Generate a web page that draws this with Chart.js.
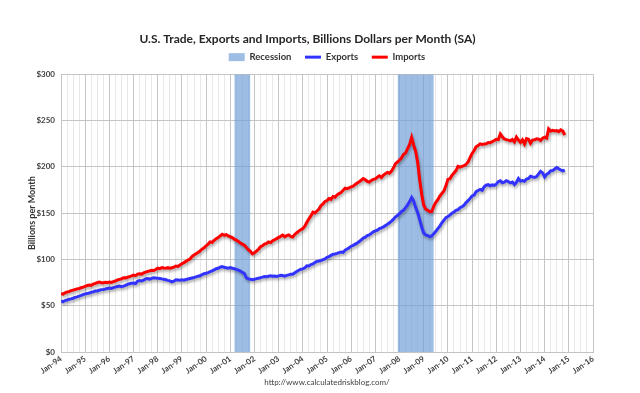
<!DOCTYPE html>
<html><head><meta charset="utf-8">
<script src="https://cdn.jsdelivr.net/npm/chart.js@4.4.0/dist/chart.umd.min.js"></script>
<style>html,body{margin:0;padding:0;background:#fff;}canvas{display:block;}</style>
</head><body>
<canvas id="c" width="640" height="393"></canvas>
<script>
const startYear = 1994;
const tickLabels = ['Jan-94','Jan-95','Jan-96','Jan-97','Jan-98','Jan-99','Jan-00','Jan-01','Jan-02','Jan-03','Jan-04','Jan-05','Jan-06','Jan-07','Jan-08','Jan-09','Jan-10','Jan-11','Jan-12','Jan-13','Jan-14','Jan-15','Jan-16'];

// Monthly exports, billions $ (Jan-1994 .. Nov-2014)
const exportsData = [
 55.2, 54.3, 55.6, 56.2, 57.0, 57.4, 58.1, 59.0, 59.6, 60.3, 61.1, 62.0,
 62.8, 63.1, 63.7, 64.5, 64.9, 65.8, 66.0, 66.7, 67.4, 67.6, 68.0, 68.6,
 69.0, 68.7, 69.6, 70.1, 70.8, 71.3, 70.6, 71.2, 72.0, 73.1, 73.8, 74.3,
 74.6, 74.0, 76.5, 77.2, 76.8, 77.6, 78.9, 79.4, 78.8, 79.6, 80.3, 79.9,
 79.8, 79.5, 79.0, 78.6, 78.0, 77.4, 76.9, 75.8, 76.5, 78.0, 77.8, 77.6,
 78.0, 77.6, 78.3, 78.8, 79.4, 80.0, 80.5, 81.1, 81.9, 82.4, 83.5, 84.6,
 85.0, 85.8, 86.9, 87.6, 88.7, 89.9, 90.4, 91.6, 92.3, 91.5, 91.0, 90.6,
 91.2, 90.5, 90.0, 89.2, 88.4, 87.5, 86.0, 84.8, 80.0, 79.0, 78.6, 78.2,
 78.5, 79.3, 79.6, 80.4, 80.9, 81.5, 81.3, 81.9, 82.3, 81.8, 82.0, 81.6,
 82.2, 82.9, 82.6, 82.0, 82.8, 83.3, 84.1, 84.0, 85.6, 87.0, 88.3, 89.5,
 89.8, 91.0, 93.2, 93.0, 94.5, 95.1, 96.7, 97.9, 98.4, 98.9, 99.7, 100.6,
 102.3, 103.1, 104.4, 105.6, 105.9, 106.5, 107.4, 108.0, 107.6, 110.1, 111.3, 112.5,
 114.3, 115.2, 116.5, 117.8, 119.4, 121.2, 123.0, 124.0, 125.9, 126.6, 128.1, 129.9,
 130.8, 131.6, 133.3, 134.1, 135.2, 136.5, 138.1, 139.6, 141.5, 143.5, 146.0, 147.5,
 149.5, 151.8, 153.2, 156.0, 159.0, 162.5, 167.0, 163.0, 156.0, 150.5, 143.0, 135.0,
 128.3, 126.5, 125.8, 124.6, 125.3, 127.9, 130.4, 133.2, 136.0, 139.6, 142.3, 145.2,
 146.3, 147.9, 150.0, 151.2, 153.0, 153.8, 155.8, 156.9, 158.6, 161.5, 163.4, 166.0,
 168.5, 169.6, 173.2, 174.5, 175.6, 174.7, 178.4, 180.2, 180.8, 179.6, 180.5, 180.0,
 181.3, 184.0, 184.9, 182.7, 183.4, 185.1, 184.2, 182.7, 183.5, 180.9, 183.3, 187.4,
 184.6, 185.3, 184.5, 186.8, 187.4, 189.9, 189.2, 188.7, 189.5, 192.5, 195.2, 193.5,
 189.2, 192.0, 193.4, 195.8, 196.0, 197.7, 199.3, 197.9, 196.6, 195.6, 196.4
];

// Monthly imports, billions $ (Jan-1994 .. Nov-2014)
const importsData = [
 63.0, 62.6, 64.0, 64.8, 65.2, 66.3, 66.9, 67.5, 68.2, 68.6, 69.4, 70.1,
 71.0, 71.8, 72.3, 72.0, 73.4, 74.1, 75.0, 75.6, 74.8, 74.9, 75.3, 75.0,
 75.6, 75.2, 76.0, 76.7, 77.8, 78.4, 79.0, 80.3, 80.1, 80.8, 81.5, 82.2,
 83.0, 82.4, 84.1, 84.6, 84.2, 85.5, 86.3, 87.0, 87.6, 88.2, 88.0, 89.1,
 90.5, 90.0, 91.3, 90.8, 90.4, 91.1, 90.6, 90.9, 91.8, 92.9, 92.5, 94.0,
 95.4, 96.6, 97.9, 99.3, 100.5, 103.1, 104.8, 106.2, 107.5, 109.0, 111.2, 112.6,
 114.8, 116.6, 118.9, 118.4, 120.7, 122.3, 123.6, 125.5, 127.2, 126.1, 126.8, 125.4,
 124.5, 123.6, 121.9, 120.8, 119.5, 117.8, 116.5, 115.4, 113.0, 110.5, 108.7, 106.0,
 107.2, 108.9, 111.0, 113.7, 114.8, 116.5, 117.3, 118.9, 118.2, 120.1, 121.3, 122.5,
 123.8, 124.9, 126.3, 124.6, 125.7, 126.5, 124.9, 124.2, 127.0, 128.8, 130.6, 132.0,
 133.4, 136.0, 140.2, 143.8, 147.0, 151.0, 150.2, 152.3, 154.4, 158.1, 160.0, 162.6,
 163.5, 165.8, 164.9, 168.0, 167.2, 169.8, 171.1, 172.4, 174.8, 177.0, 176.5, 177.3,
 178.5, 179.2, 181.0, 182.5, 183.9, 185.6, 187.3, 186.0, 184.4, 183.6, 185.2, 186.5,
 187.0, 188.9, 190.3, 188.6, 191.0, 192.7, 194.0, 193.1, 195.5, 199.0, 203.5, 205.2,
 207.5, 209.8, 213.6, 215.0, 219.7, 224.2, 231.8, 223.5, 216.8, 205.0, 186.0, 170.2,
 158.6, 154.2, 153.0, 151.5, 151.8, 157.5, 161.6, 164.6, 168.4, 171.2, 174.0, 179.5,
 186.5, 187.2, 190.8, 193.4, 196.0, 200.5, 199.8, 200.6, 201.3, 202.7, 205.4, 210.0,
 214.5, 217.6, 221.7, 223.0, 224.8, 224.2, 224.6, 225.0, 226.3, 226.0, 227.2, 228.5,
 229.7, 229.4, 235.5, 232.6, 230.2, 229.4, 228.9, 228.1, 229.6, 227.0, 232.1, 229.0,
 226.5, 229.3, 224.8, 230.5, 229.8, 225.6, 228.9, 229.2, 230.4, 230.0, 228.4, 230.9,
 232.0, 231.0, 241.0, 238.7, 239.5, 238.8, 239.3, 238.1, 239.9, 238.6, 234.4
];

// Recession periods (start month, end month)
const recessionStarts = ['2001-03', '2007-12'];
const recessionEnds   = ['2001-11', '2009-06'];
const yMax = 300;

function monthIndex(s) { const p = s.split('-').map(Number); return (p[0] - startYear) * 12 + (p[1] - 1); }
const toPoints = arr => arr.map((v, i) => ({ x: i, y: v }));

const FONT = 'Lato, "Open Sans", sans-serif';
const recColor = 'rgba(112,158,215,0.68)';

const recessionSets = recessionStarts.map((s, k) => ({
  label: 'Recession',
  data: [{ x: monthIndex(s), y: yMax }, { x: monthIndex(recessionEnds[k]), y: yMax }],
  borderWidth: 0, borderColor: 'rgba(0,0,0,0)', backgroundColor: recColor,
  pointRadius: 0, pointBorderWidth: 0, pointStyle: 'rect', pointBackgroundColor: recColor,
  fill: 'origin', order: 10
}));

const shadowPlugin = {
  id: 'lineShadow',
  beforeDatasetDraw(chart, args) {
    if (chart.data.datasets[args.index].shadow) {
      const c = chart.ctx; c.save();
      c.shadowColor = 'rgba(0,0,0,0.35)'; c.shadowBlur = 3; c.shadowOffsetX = 1; c.shadowOffsetY = 2;
    }
  },
  afterDatasetDraw(chart, args) {
    if (chart.data.datasets[args.index].shadow) chart.ctx.restore();
  }
};

new Chart(document.getElementById('c'), {
  type: 'line',
  data: {
    datasets: [
      recessionSets[0], recessionSets[1],
      { label: 'Exports', data: toPoints(exportsData), borderColor: '#3333ff', backgroundColor: '#3333ff',
        borderWidth: 3, pointRadius: 0, pointStyle: 'line', pointBorderWidth: 3, pointBorderColor: '#3333ff',
        fill: false, tension: 0, order: 1, shadow: true },
      { label: 'Imports', data: toPoints(importsData), borderColor: '#ff0000', backgroundColor: '#ff0000',
        borderWidth: 3, pointRadius: 0, pointStyle: 'line', pointBorderWidth: 3, pointBorderColor: '#ff0000',
        fill: false, tension: 0, order: 0, shadow: true }
    ]
  },
  options: {
    responsive: false, animation: false, devicePixelRatio: 1,
    layout: { padding: { left: 22, right: 47, top: 32, bottom: 4 } },
    plugins: {
      tooltip: { enabled: false },
      title: { display: true, text: 'U.S. Trade, Exports and Imports, Billions Dollars per Month (SA)',
        font: { family: FONT, size: 12, weight: 'bold' }, color: '#262626', padding: { top: 0, bottom: -7.5 } },
      subtitle: { display: true, text: '', weight: 500, font: { size: 2 }, padding: 0 },
      legend: { position: 'top', fullSize: false,
        labels: { usePointStyle: true, pointStyleWidth: 16, boxHeight: 8, padding: 13.5,
          font: { family: FONT, size: 9.5, weight: 'bold' }, color: '#333',
          filter: item => item.datasetIndex !== 1,
          sort: (a, b) => a.datasetIndex - b.datasetIndex } }
    },
    scales: {
      x: { type: 'linear', min: 0, max: 264,
        ticks: { stepSize: 3, autoSkip: false, maxRotation: 35, minRotation: 35, padding: 2,
          font: { family: FONT, size: 8, weight: 'bold' }, color: '#404040',
          callback: v => (v % 12 === 0 ? tickLabels[v / 12] : '') },
        grid: { drawTicks: false, color: c => (c.tick && c.tick.value % 12 === 0 ? '#c4c4c4' : '#e8e8e8') },
        border: { color: '#c4c4c4' },
        title: { display: true, text: 'http://www.calculatedriskblog.com/', font: { family: FONT, size: 8 },
          color: '#404040', padding: { top: 0, bottom: 2 } },
        afterFit: s => { s.height = 37; } },
      y: { min: 0, max: yMax,
        ticks: { stepSize: 50, padding: 6, font: { family: FONT, size: 8, weight: 'bold' }, color: '#404040',
          callback: v => '$' + v },
        grid: { drawTicks: false, color: '#c4c4c4' },
        border: { color: '#c4c4c4' },
        title: { display: true, text: 'Billions per Month', font: { family: FONT, size: 9, weight: 'bold' },
          color: '#333', padding: { top: 5, bottom: 2 } },
        afterFit: s => { s.width = 39; } }
    }
  },
  plugins: [shadowPlugin]
});
</script>
</body></html>
